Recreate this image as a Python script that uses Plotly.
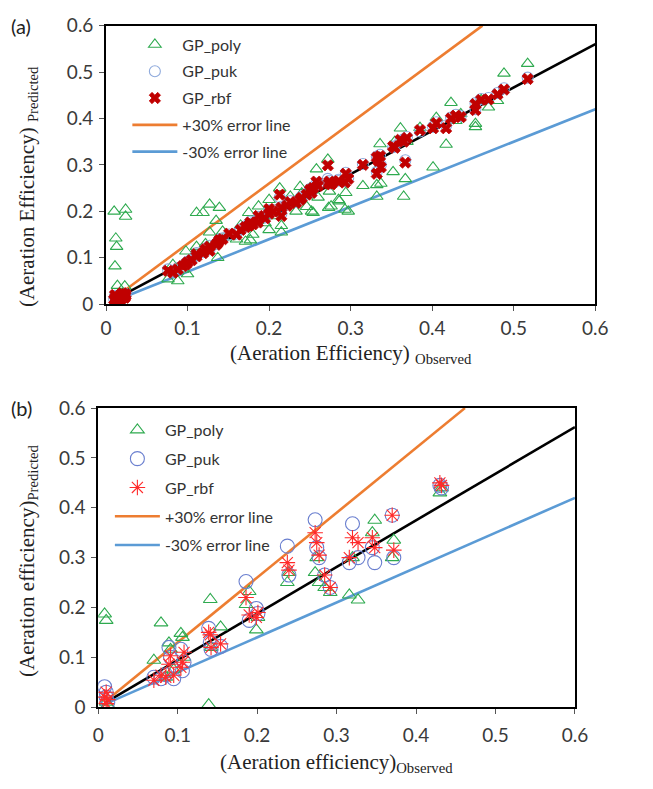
import plotly.graph_objects as go

W, H = 653, 789

# ---------------- panel (a) data ----------------
obs_a = [0.010, 0.012, 0.013, 0.011, 0.014, 0.012, 0.024, 0.024, 0.023, 0.018, 0.020,
         0.076, 0.082, 0.088, 0.094, 0.098, 0.100, 0.105, 0.111, 0.111, 0.119, 0.122,
         0.127, 0.127, 0.135, 0.137, 0.139, 0.143, 0.151, 0.160, 0.165, 0.171, 0.175,
         0.177, 0.180, 0.187, 0.186, 0.195, 0.200, 0.200, 0.205, 0.213, 0.215, 0.215,
         0.222, 0.226, 0.233, 0.238, 0.240, 0.246, 0.250, 0.252, 0.254, 0.258, 0.260,
         0.272, 0.273, 0.274, 0.276, 0.285, 0.286, 0.293, 0.294, 0.297, 0.315, 0.332,
         0.332, 0.334, 0.337, 0.336, 0.352, 0.354, 0.361, 0.365, 0.367, 0.369, 0.385,
         0.401, 0.405, 0.417, 0.423, 0.429, 0.435, 0.453, 0.453, 0.460, 0.469, 0.480,
         0.488, 0.517]
poly_a = [0.200, 0.142, 0.124, 0.082, 0.040, 0.000, 0.204, 0.189, 0.039, 0.010, 0.020,
          0.054, 0.085, 0.050, 0.075, 0.114, 0.065, 0.100, 0.197, 0.124, 0.197, 0.130,
          0.215, 0.155, 0.180, 0.100, 0.208, 0.157, 0.145, 0.140, 0.170, 0.135, 0.197,
          0.138, 0.150, 0.211, 0.180, 0.175, 0.225, 0.160, 0.190, 0.250, 0.169, 0.155,
          0.215, 0.232, 0.200, 0.253, 0.239, 0.210, 0.250, 0.200, 0.197, 0.291, 0.230,
          0.312, 0.208, 0.243, 0.211, 0.225, 0.222, 0.204, 0.240, 0.200, 0.255, 0.257,
          0.232, 0.295, 0.260, 0.345, 0.285, 0.350, 0.379, 0.232, 0.270, 0.350, 0.380,
          0.295, 0.402, 0.344, 0.434, 0.395, 0.410, 0.389, 0.382, 0.440, 0.424, 0.438,
          0.497, 0.518]
puk_a = [0.012, 0.014, 0.010, 0.018, 0.008, 0.015, 0.020, 0.022, 0.016, 0.012, 0.020,
         0.075, 0.070, 0.078, 0.080, 0.088, 0.092, 0.097, 0.105, 0.110, 0.112, 0.120,
         0.126, 0.118, 0.130, 0.134, 0.140, 0.142, 0.150, 0.152, 0.162, 0.168, 0.172,
         0.178, 0.175, 0.188, 0.180, 0.187, 0.202, 0.198, 0.203, 0.230, 0.210, 0.195,
         0.215, 0.222, 0.220, 0.228, 0.232, 0.238, 0.248, 0.242, 0.252, 0.260, 0.258,
         0.270, 0.262, 0.266, 0.260, 0.268, 0.266, 0.265, 0.283, 0.272, 0.302, 0.318,
         0.285, 0.312, 0.300, 0.322, 0.338, 0.340, 0.352, 0.355, 0.310, 0.360, 0.372,
         0.382, 0.392, 0.385, 0.402, 0.408, 0.405, 0.433, 0.420, 0.442, 0.444, 0.455,
         0.465, 0.488]
rbf_a = [0.010, 0.015, 0.008, 0.020, 0.005, 0.012, 0.018, 0.022, 0.014, 0.010, 0.024,
         0.072, 0.068, 0.075, 0.082, 0.086, 0.090, 0.095, 0.103, 0.108, 0.110, 0.118,
         0.124, 0.115, 0.128, 0.132, 0.138, 0.140, 0.152, 0.150, 0.160, 0.166, 0.169,
         0.176, 0.172, 0.190, 0.176, 0.185, 0.205, 0.195, 0.200, 0.236, 0.208, 0.190,
         0.212, 0.220, 0.218, 0.225, 0.229, 0.236, 0.246, 0.240, 0.250, 0.264, 0.255,
         0.299, 0.260, 0.264, 0.258, 0.265, 0.264, 0.262, 0.281, 0.270, 0.300, 0.316,
         0.281, 0.309, 0.295, 0.319, 0.340, 0.337, 0.354, 0.350, 0.305, 0.358, 0.375,
         0.379, 0.390, 0.379, 0.400, 0.406, 0.403, 0.431, 0.418, 0.440, 0.441, 0.452,
         0.462, 0.485]

# ---------------- panel (b) data ----------------
obs_b = [0.008, 0.010, 0.010, 0.012, 0.070, 0.079, 0.085, 0.089, 0.091, 0.095, 0.104,
         0.106, 0.108, 0.139, 0.141, 0.142, 0.154, 0.186, 0.190, 0.199, 0.201, 0.238,
         0.240, 0.273, 0.275, 0.278, 0.285, 0.292, 0.316, 0.320, 0.327, 0.345, 0.348,
         0.370, 0.372, 0.430, 0.432]
poly_b = [0.187, 0.174, 0.010, 0.005, 0.094, 0.169, 0.060, 0.129, 0.116, 0.075, 0.148,
          0.140, 0.100, 0.005, 0.216, 0.120, 0.161, 0.206, 0.232, 0.155, 0.180, 0.250,
          0.270, 0.270, 0.300, 0.250, 0.240, 0.230, 0.225, 0.300, 0.215, 0.350, 0.375,
          0.300, 0.335, 0.430, 0.440]
puk_b = [0.041, 0.020, 0.030, 0.010, 0.060, 0.057, 0.065, 0.120, 0.100, 0.057, 0.116,
         0.073, 0.090, 0.158, 0.130, 0.116, 0.122, 0.252, 0.174, 0.198, 0.188, 0.323,
         0.265, 0.376, 0.320, 0.300, 0.265, 0.240, 0.290, 0.368, 0.300, 0.320, 0.290,
         0.385, 0.300, 0.445, 0.440]
rbf_b = [0.020, 0.007, 0.030, 0.015, 0.054, 0.064, 0.060, 0.086, 0.103, 0.064, 0.080,
         0.090, 0.110, 0.150, 0.145, 0.120, 0.127, 0.220, 0.185, 0.180, 0.190, 0.290,
         0.275, 0.350, 0.330, 0.305, 0.265, 0.240, 0.300, 0.340, 0.330, 0.340, 0.320,
         0.385, 0.315, 0.450, 0.445]

# reference lines (end points as drawn on each panel)
line_x = [0.01, 0.6]
upper_x = [0.01, 0.6 / 1.3]
center_y_a = [0.01, 0.56]
center_y_b = [0.01, 0.562]
plus30_y = [0.013, 0.6]
minus30_y = [0.007, 0.42]

ORANGE = "#ED7D31"
BLUE_LINE = "#5B9BD5"
GREEN = "#2EAA4F"

fig = go.Figure()


def add_panel(xa, ya, legend, center_y, obs, poly, puk, rbf, styles):
    fig.add_trace(go.Scatter(x=line_x, y=center_y, mode="lines", xaxis=xa, yaxis=ya,
                             line=dict(color="black", width=2.6), showlegend=False,
                             hoverinfo="skip"))
    fig.add_trace(go.Scatter(x=upper_x, y=plus30_y, mode="lines", xaxis=xa, yaxis=ya,
                             name="+30% error line", legend=legend, legendgroup=legend + "p",
                             legendrank=4, line=dict(color=ORANGE, width=2.6)))
    fig.add_trace(go.Scatter(x=line_x, y=minus30_y, mode="lines", xaxis=xa, yaxis=ya,
                             name="-30% error line", legend=legend, legendgroup=legend + "m",
                             legendrank=5, line=dict(color=BLUE_LINE, width=2.6)))
    fig.add_trace(go.Scatter(x=obs, y=poly, mode="markers", xaxis=xa, yaxis=ya,
                             name="GP_poly", legend=legend, legendgroup=legend + "1",
                             legendrank=1, marker=styles["poly"]))
    fig.add_trace(go.Scatter(x=obs, y=puk, mode="markers", xaxis=xa, yaxis=ya,
                             name="GP_puk", legend=legend, legendgroup=legend + "2",
                             legendrank=2, marker=styles["puk"]))
    fig.add_trace(go.Scatter(x=obs, y=rbf, mode="markers", xaxis=xa, yaxis=ya,
                             name="GP_rbf", legend=legend, legendgroup=legend + "3",
                             legendrank=3, marker=styles["rbf"]))


styles_a = {
    "poly": dict(symbol="triangle-up-open", size=11, color=GREEN, line=dict(width=1.1)),
    "puk": dict(symbol="circle-open", size=11, color="#8FAADC", line=dict(width=1.1)),
    "rbf": dict(symbol="x", size=10, color="#C00000", line=dict(width=0.8, color="#C00000")),
}
styles_b = {
    "poly": dict(symbol="triangle-up-open", size=12, color=GREEN, line=dict(width=1.1)),
    "puk": dict(symbol="circle-open", size=14, color="#6A7FCF", line=dict(width=1.1)),
    "rbf": dict(symbol="asterisk-open", size=13, color="#FF2A2A", line=dict(width=1.1)),
}

add_panel("x", "y", "legend", center_y_a, obs_a, poly_a, puk_a, rbf_a, styles_a)
add_panel("x2", "y2", "legend2", center_y_b, obs_b, poly_b, puk_b, rbf_b, styles_b)

SANS = "Lato, Open Sans, sans-serif"
SERIF = "Liberation Serif, Times New Roman, serif"
tick_font = dict(family=SANS, size=19, color="#3a3a3a")
title_font = dict(family=SERIF, size=21, color="#222")
ticks = [0, 0.1, 0.2, 0.3, 0.4, 0.5, 0.6]
tick_text = ["0", "0.1", "0.2", "0.3", "0.4", "0.5", "0.6"]


def axis(domain, anchor, standoff=0):
    return dict(domain=domain, anchor=anchor, range=[0, 0.6], tickvals=ticks, ticktext=tick_text,
                showgrid=False, zeroline=False, showline=True, linecolor="black", linewidth=1.6,
                mirror=True, ticks="outside", ticklen=5, tickcolor="#555", tickfont=tick_font,
                ticklabelstandoff=standoff)


def label(text, x, y, angle=0, font=title_font):
    return dict(text=text, x=x / W, y=1 - y / H, xref="paper", yref="paper",
                xanchor="center", yanchor="middle", textangle=angle, showarrow=False, font=font)


legend_font = dict(family=SANS, size=16, color="#333")
panel_font = dict(family=SANS, size=20, color="#222")

fig.update_layout(
    width=W, height=H,
    margin=dict(l=0, r=0, t=0, b=0),
    paper_bgcolor="white", plot_bgcolor="white",
    xaxis=axis([103 / W, 607 / W], "y", 1),
    yaxis=axis([1 - 301 / H, 1 - 14 / H], "x", 2),
    xaxis2=axis([95 / W, 586 / W], "y2", 5),
    yaxis2=axis([1 - 716 / H, 1 - 408 / H], "x2", 2),
    legend=dict(x=125 / W, y=1 - 16 / H, xanchor="left", yanchor="top", font=legend_font,
                bgcolor="rgba(0,0,0,0)", tracegroupgap=3, itemwidth=45),
    legend2=dict(x=107 / W, y=1 - 413 / H, xanchor="left", yanchor="top", font=legend_font,
                 bgcolor="rgba(0,0,0,0)", tracegroupgap=5, itemwidth=45),
    annotations=[
        dict(text="(a)", x=3 / W, y=1 - 14 / H, xref="paper", yref="paper", xanchor="left",
             yanchor="middle", showarrow=False, font=panel_font),
        dict(text="(b)", x=3 / W, y=1 - 408 / H, xref="paper", yref="paper", xanchor="left",
             yanchor="middle", showarrow=False, font=panel_font),
        label("(Aeration Efficiency) <sub>Observed</sub>", 355, 352),
        label("(Aeration Efficiency) <sub>Predicted</sub>", 22, 180, -90),
        label("(Aeration efficiency)<sub>Observed</sub>", 340, 774),
        label("(Aeration efficiency)<sub>Predicted</sub>", 22, 565, -90),
    ],
)

fig.write_html("out.html")
